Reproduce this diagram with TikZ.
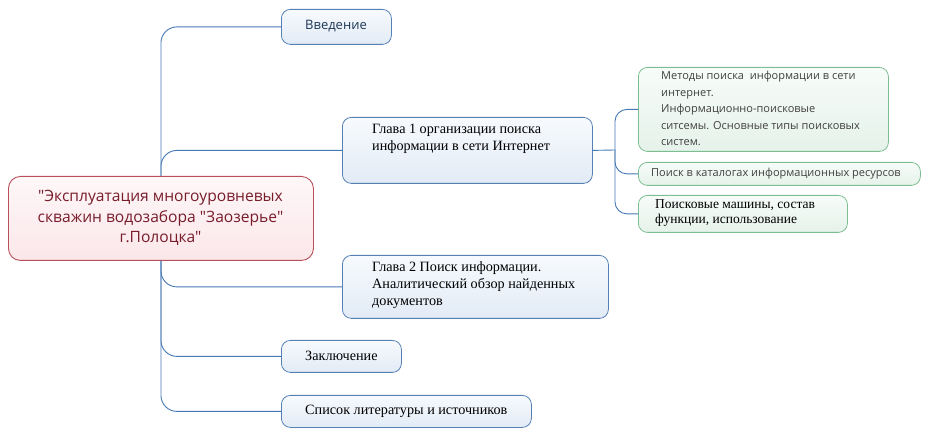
\documentclass[tikz,border=0pt]{standalone}
\usepackage{fontspec}
\setmainfont{Liberation Serif}
\newfontfamily\uifont{Open Sans}
\definecolor{conn}{RGB}{70,120,180}
\definecolor{bluebd}{RGB}{84,128,180}
\definecolor{bluetop}{RGB}{247,250,253}
\definecolor{bluebot}{RGB}{226,235,246}
\definecolor{redbd}{RGB}{184,80,90}
\definecolor{redtop}{RGB}{254,247,248}
\definecolor{redbot}{RGB}{251,231,234}
\definecolor{redtx}{RGB}{120,28,42}
\definecolor{greenbd}{RGB}{124,190,146}
\definecolor{greentop}{RGB}{247,252,249}
\definecolor{greenbot}{RGB}{229,242,234}
\definecolor{greentx}{RGB}{64,64,64}
\definecolor{slatetx}{RGB}{30,55,85}
\tikzset{
  connline/.style={draw=conn, line width=0.9pt, rounded corners=16},
  bluebox/.style={draw=bluebd, line width=0.8pt, rounded corners=9, top color=bluetop, bottom color=bluebot, anchor=north west, inner sep=0pt},
  redbox/.style={draw=redbd, line width=0.9pt, rounded corners=12, top color=redtop, bottom color=redbot, anchor=north west, inner sep=0pt},
  greenbox/.style={draw=greenbd, line width=0.8pt, rounded corners=9, top color=greentop, bottom color=greenbot, anchor=north west, inner sep=0pt},
  serifjtext/.style={anchor=north west, inner sep=0pt, align=left, font=\fontsize{14.2}{17}\selectfont, text=black},
  greentext/.style={anchor=north west, inner sep=0pt, align=left, font=\uifont\fontsize{11}{16.5}\selectfont, text=greentx},
}
\begin{document}
\begin{tikzpicture}[x=1pt,y=-1pt]
\useasboundingbox (0,0) rectangle (929,435);
% boxes
\node[redbox, minimum width=305, minimum height=84] (root) at (8,176) {};
\node[anchor=center, inner sep=0pt, align=center, text=redtx, font=\uifont\fontsize{15.6}{20.5}\selectfont] (roott) at (160.5,218) {"Эксплуатация многоуровневых\\скважин водозабора "Заозерье"\\г.Полоцка"};
\node[bluebox, minimum width=110, minimum height=35] (vved) at (281,9) {};
\node[anchor=center, inner sep=0pt, text=slatetx, font=\uifont\fontsize{13}{16}\selectfont] (vvedt) at (336,26.5) {Введение};
\node[bluebox, minimum width=250, minimum height=66] (g1) at (342,117) {};
\node[serifjtext] (g1t) at (372,124) {Глава 1 организации поиска\\информации в сети Интернет};
\node[bluebox, minimum width=266, minimum height=63] (g2) at (342,255) {};
\node[serifjtext] (g2t) at (372,261) {Глава 2 Поиск информации.\\Аналитический обзор найденных\\документов};
\node[bluebox, minimum width=120, minimum height=32] (zakl) at (281,340) {};
\node[serifjtext, anchor=west] (zaklt) at (305,356) {Заключение};
\node[bluebox, minimum width=250, minimum height=32] (spis) at (281,395) {};
\node[serifjtext, anchor=west] (spist) at (305,411) {Список литературы и источников};
\node[greenbox, minimum width=250, minimum height=84] (m1) at (638,67) {};
\node[greentext] (m1t) at (661,71) {Методы поиска \ информации в сети\\интернет.\\Информационно-поисковые\\ситсемы. Основные типы поисковых\\систем.};
\node[greenbox, minimum width=282, minimum height=23] (m2) at (638,162) {};
\node[greentext, anchor=west] (m2t) at (651,173.5) {Поиск в каталогах информационных ресурсов};
\node[greenbox, minimum width=209, minimum height=37] (m3) at (638,195) {};
\node[serifjtext, anchor=north west, font=\fontsize{13.5}{15.5}\selectfont] (m3t) at (655,199) {Поисковые машины, состав\\функции, использование};
\coordinate (hub) at (615,150);
% connectors
\draw[connline] (root.north) |- (vved.west);
\draw[connline] (root.north) |- (g1.west);
\draw[connline] (root.south) |- (g2.west);
\draw[connline] (root.south) |- (zakl.west);
\draw[connline] (root.south) |- (spis.west);
\draw[connline] (g1.east) -- (hub);
\draw[connline, rounded corners=12] (hub) |- (m1.west);
\draw[connline, rounded corners=12] (hub) |- (m2.west);
\draw[connline, rounded corners=12] (hub) |- (m3.west);
\end{tikzpicture}
\end{document}
